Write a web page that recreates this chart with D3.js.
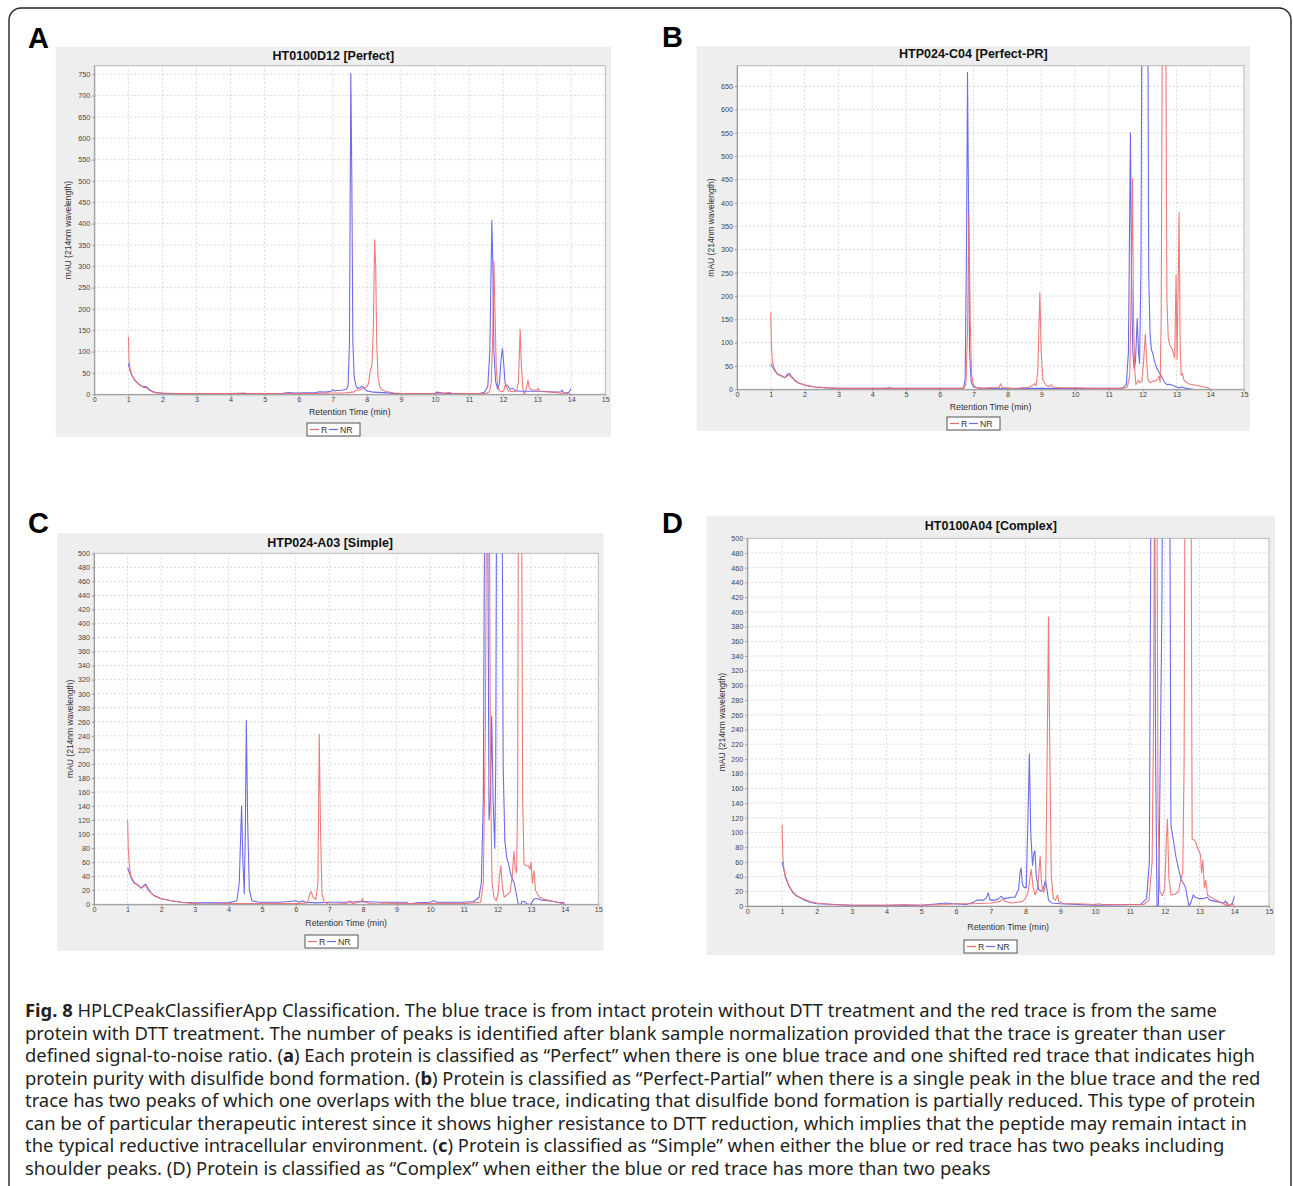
<!DOCTYPE html>
<html>
<head>
<meta charset="utf-8">
<script src="https://cdn.jsdelivr.net/npm/d3@7"></script>
<style>
body { margin: 0; background: #fff; }
svg { display: block; }
</style>
</head>
<body>
<svg id="fig" width="1293" height="1186"></svg>
<script>
// ---- data ----
const panelLetters = ["A", "B", "C", "D"];
const titles = ["HT0100D12 [Perfect]", "HTP024-C04 [Perfect-PR]", "HTP024-A03 [Simple]", "HT0100A04 [Complex]"];
const seriesNames = ["R", "NR"];
const xTicks = [0, 1, 2, 3, 4, 5, 6, 7, 8, 9, 10, 11, 12, 13, 14, 15];
const yTicksA = [0, 50, 100, 150, 200, 250, 300, 350, 400, 450, 500, 550, 600, 650, 700, 750];
const yTicksB = [0, 50, 100, 150, 200, 250, 300, 350, 400, 450, 500, 550, 600, 650];
const yTicks500 = [0, 20, 40, 60, 80, 100, 120, 140, 160, 180, 200, 220, 240, 260, 280, 300, 320, 340, 360, 380, 400, 420, 440, 460, 480, 500];
const yMax = [770, 694, 500, 500];

// [retention time (min), mAU]
const aRed = [[1.0,135],[1.02,80],[1.05,60],[1.1,46],[1.15,38],[1.2,32],[1.3,24],[1.4,18],[1.45,16],[1.5,16],[1.55,14],[1.6,10],[1.7,6],[1.8,4],[2.0,3],[2.3,2],[3.0,1.5],[4.0,1.5],[4.4,3],[4.5,2],[5.0,1.5],[5.6,2],[5.7,3],[5.8,2],[6.5,2],[7.0,3],[7.3,3],[7.6,5],[7.7,10],[7.8,10],[7.9,14],[8.0,18],[8.05,25],[8.1,55],[8.15,68],[8.19,150],[8.23,362],[8.26,300],[8.29,120],[8.33,40],[8.38,18],[8.45,10],[8.6,6],[8.8,3],[9.0,2],[10.0,2],[10.45,4],[10.5,2],[11.5,2],[11.6,6],[11.65,25],[11.69,120],[11.73,312],[11.76,200],[11.8,60],[11.84,20],[11.9,8],[11.96,6],[12.02,8],[12.06,22],[12.1,18],[12.15,8],[12.3,6],[12.4,7],[12.45,30],[12.5,152],[12.54,60],[12.58,15],[12.62,0],[12.66,8],[12.7,20],[12.73,33],[12.77,15],[12.85,10],[13.0,10],[13.03,14],[13.07,7],[13.2,6],[13.4,6],[13.6,4],[13.7,2],[13.8,4],[13.9,1],[14.0,0]];
const aBlue = [[1.0,72],[1.03,62],[1.06,52],[1.1,44],[1.2,32],[1.3,24],[1.4,19],[1.45,18],[1.5,18],[1.55,17],[1.6,12],[1.7,7],[1.8,4],[2.0,2.5],[2.5,1.5],[3.5,1.5],[4.5,2],[5.5,2],[5.7,4],[5.9,3],[6.5,4],[6.6,6],[6.8,5],[6.95,7],[7.0,11],[7.05,8],[7.1,9],[7.2,9],[7.3,10],[7.4,12],[7.45,20],[7.49,120],[7.53,752],[7.56,500],[7.59,120],[7.63,40],[7.68,20],[7.73,14],[7.8,15],[7.85,19],[7.9,16],[8.0,8],[8.2,5],[8.5,4],[8.8,2],[10.0,2],[10.05,5],[10.15,4],[10.25,2],[11.3,2],[11.45,5],[11.55,18],[11.61,100],[11.67,407],[11.7,300],[11.73,100],[11.78,30],[11.84,12],[11.89,25],[11.94,80],[11.98,108],[12.02,70],[12.06,25],[12.1,22],[12.14,20],[12.2,12],[12.28,14],[12.35,9],[12.5,7],[12.8,7],[13.1,7],[13.5,5],[13.7,6],[13.73,10],[13.77,4],[13.85,3],[13.93,5],[13.98,12],[14.0,13]];

const bRed = [[1.0,165],[1.02,90],[1.05,58],[1.1,45],[1.2,33],[1.3,30],[1.4,25],[1.45,26],[1.5,30],[1.55,31],[1.6,26],[1.7,19],[1.8,14],[2.0,9],[2.3,5],[2.7,3],[3.0,2],[4.0,2],[5.0,2],[6.0,2],[6.7,2],[6.77,10],[6.82,120],[6.86,375],[6.9,150],[6.94,30],[7.0,8],[7.1,3],[7.3,2],[7.5,3],[7.75,4],[7.8,12],[7.84,4],[8.0,3],[8.2,2],[8.3,0],[8.4,3],[8.6,4],[8.75,8],[8.8,12],[8.85,8],[8.9,40],[8.96,207],[9.0,80],[9.05,20],[9.15,8],[9.25,6],[9.3,10],[9.35,5],[9.6,3],[10.0,3],[10.5,2],[11.4,2],[11.55,5],[11.62,30],[11.66,200],[11.7,452],[11.73,150],[11.77,40],[11.8,10],[11.84,15],[11.88,20],[11.92,14],[11.98,18],[12.03,60],[12.08,118],[12.12,60],[12.16,20],[12.22,14],[12.3,17],[12.38,18],[12.45,22],[12.49,28],[12.52,15],[12.55,150],[12.59,900],[12.64,900],[12.68,900],[12.72,190],[12.76,110],[12.8,95],[12.85,90],[12.9,80],[12.95,67],[12.99,245],[13.02,65],[13.08,380],[13.11,100],[13.14,30],[13.18,34],[13.22,20],[13.35,12],[13.6,8],[13.9,4],[14.0,0]];
const bBlue = [[1.0,55],[1.05,48],[1.1,42],[1.2,32],[1.3,29],[1.4,25],[1.45,28],[1.5,33],[1.55,34],[1.6,29],[1.7,20],[1.8,14],[2.0,9],[2.3,5],[2.7,3],[3.0,2],[4.4,2],[4.5,3],[4.6,2],[6.7,2],[6.75,20],[6.79,300],[6.82,680],[6.85,400],[6.88,80],[6.93,15],[7.0,5],[7.2,2],[7.5,2],[8.0,1],[8.2,0],[8.3,2],[9.0,2],[10.0,2],[11.4,2],[11.52,10],[11.58,80],[11.64,550],[11.67,250],[11.71,80],[11.75,45],[11.79,60],[11.84,152],[11.88,80],[11.91,55],[11.95,250],[12.0,1200],[12.14,1200],[12.18,250],[12.22,120],[12.26,85],[12.3,78],[12.35,60],[12.42,45],[12.5,35],[12.58,25],[12.65,15],[12.72,10],[12.8,11],[12.9,8],[13.0,5],[13.1,3],[13.15,5],[13.2,4],[13.3,2],[13.5,0]];

const cRed = [[1.0,120],[1.02,80],[1.05,55],[1.1,40],[1.2,31],[1.3,27],[1.4,23],[1.45,24],[1.5,26],[1.55,26],[1.6,21],[1.7,16],[1.8,12],[2.0,8],[2.3,5],[2.6,3],[3.0,1],[3.3,0],[4.0,1],[5.0,1],[6.0,1],[6.35,2],[6.42,15],[6.46,18],[6.52,10],[6.6,7],[6.66,30],[6.7,242],[6.74,100],[6.78,15],[6.85,3],[7.0,0],[7.5,1],[7.62,5],[7.68,1],[7.95,4],[7.98,8],[8.03,4],[8.2,1],[8.5,0],[8.6,2],[9.0,1],[10.0,1],[11.0,1],[11.5,3],[11.58,30],[11.64,250],[11.69,700],[11.75,700],[11.79,200],[11.84,30],[11.9,10],[11.96,5],[12.02,15],[12.06,40],[12.1,55],[12.14,28],[12.2,10],[12.3,14],[12.38,18],[12.44,40],[12.49,75],[12.53,50],[12.57,45],[12.6,150],[12.63,700],[12.71,700],[12.75,150],[12.79,57],[12.85,55],[12.92,55],[12.97,50],[13.0,60],[13.04,30],[13.09,48],[13.13,20],[13.18,16],[13.25,10],[13.4,7],[13.7,4],[14.0,0]];
const cBlue = [[1.0,52],[1.05,45],[1.1,38],[1.2,30],[1.3,28],[1.4,23],[1.45,25],[1.5,28],[1.55,28],[1.6,23],[1.7,16],[1.8,12],[2.0,8],[2.3,5],[2.6,3],[3.0,2],[4.0,2],[4.25,5],[4.32,30],[4.39,140],[4.43,60],[4.47,15],[4.5,100],[4.53,262],[4.57,120],[4.62,20],[4.7,5],[4.9,3],[5.5,3],[5.8,4],[6.0,5],[6.1,3],[6.2,5],[6.3,3],[6.6,2],[7.0,3],[7.5,3],[8.0,4],[8.5,3],[9.0,3],[9.3,3],[9.35,0],[9.45,1],[9.6,2],[10.0,3],[10.1,5],[10.2,3],[11.0,3],[11.3,4],[11.45,10],[11.52,30],[11.58,150],[11.63,700],[11.7,700],[11.75,120],[11.79,150],[11.83,268],[11.87,150],[11.92,80],[11.95,200],[11.98,700],[12.13,700],[12.17,200],[12.22,90],[12.28,65],[12.32,60],[12.4,42],[12.5,30],[12.56,15],[12.62,0],[12.7,0],[12.73,4],[12.8,4],[12.9,0],[13.0,0],[13.05,5],[13.1,8],[13.2,8],[13.3,6],[13.5,5],[13.8,3],[14.0,2]];

const dRed = [[1.0,110],[1.02,70],[1.05,50],[1.1,38],[1.2,27],[1.3,20],[1.4,15],[1.5,12],[1.6,10],[1.8,6],[2.0,4],[2.5,2],[3.0,1],[4.0,1],[4.5,2],[5.0,1],[5.7,2],[6.0,3],[6.5,3],[7.0,4],[7.25,6],[7.35,10],[7.42,6],[7.6,4],[7.9,6],[8.0,10],[8.08,20],[8.16,50],[8.22,25],[8.28,15],[8.35,25],[8.42,68],[8.46,30],[8.52,18],[8.58,30],[8.62,200],[8.66,393],[8.7,200],[8.74,40],[8.8,10],[8.86,8],[8.92,15],[8.96,6],[9.1,3],[9.5,3],[10.0,2],[10.1,3],[10.2,2],[11.4,2],[11.55,8],[11.64,60],[11.68,250],[11.72,700],[11.77,700],[11.81,120],[11.86,20],[11.93,14],[12.0,22],[12.05,90],[12.08,118],[12.12,40],[12.18,15],[12.3,16],[12.4,20],[12.46,35],[12.52,45],[12.56,200],[12.59,700],[12.75,700],[12.79,90],[12.85,90],[12.9,86],[12.97,76],[13.03,70],[13.06,45],[13.1,62],[13.14,25],[13.18,35],[13.23,15],[13.4,10],[13.6,5],[13.72,2],[13.76,0],[13.8,5],[13.85,0],[13.95,3],[14.0,0]];
const dBlue = [[1.0,60],[1.05,50],[1.1,40],[1.2,27],[1.3,19],[1.4,14],[1.5,12],[1.6,9],[1.8,5],[2.0,3],[2.5,2],[3.0,1],[5.0,1],[5.5,3],[5.7,4],[5.9,3],[6.3,2],[6.5,5],[6.6,8],[6.8,8],[6.88,12],[6.93,18],[6.98,8],[7.1,8],[7.2,9],[7.3,13],[7.38,10],[7.5,11],[7.6,12],[7.7,12],[7.75,18],[7.8,22],[7.84,45],[7.87,52],[7.91,30],[7.96,25],[8.02,25],[8.07,120],[8.11,207],[8.15,100],[8.2,55],[8.24,72],[8.27,75],[8.31,40],[8.38,22],[8.45,20],[8.52,25],[8.57,35],[8.61,25],[8.66,8],[8.75,4],[9.0,3],[10.0,1],[11.3,2],[11.48,10],[11.56,60],[11.62,700],[11.7,700],[11.74,200],[11.78,0],[11.82,0],[11.85,100],[11.92,400],[11.95,700],[12.14,700],[12.18,110],[12.25,90],[12.32,68],[12.4,50],[12.48,35],[12.55,30],[12.6,25],[12.65,12],[12.7,0],[12.76,5],[12.82,15],[12.88,12],[13.0,10],[13.1,10],[13.22,12],[13.3,8],[13.5,6],[13.7,4],[13.75,7],[13.8,0],[13.9,2],[13.95,4],[14.0,13]];

const redSeries = [aRed, bRed, cRed, dRed];
const blueSeries = [aBlue, bBlue, cBlue, dBlue];
const yTickSets = [yTicksA, yTicksB, yTicks500, yTicks500];

const captionLines = [
  [["b", "Fig. 8"], ["n", " HPLCPeakClassifierApp Classification. The blue trace is from intact protein without DTT treatment and the red trace is from the same"]],
  [["n", "protein with DTT treatment. The number of peaks is identified after blank sample normalization provided that the trace is greater than user"]],
  [["n", "defined signal-to-noise ratio. ("], ["b", "a"], ["n", ") Each protein is classified as \u201cPerfect\u201d when there is one blue trace and one shifted red trace that indicates high"]],
  [["n", "protein purity with disulfide bond formation. ("], ["b", "b"], ["n", ") Protein is classified as \u201cPerfect-Partial\u201d when there is a single peak in the blue trace and the red"]],
  [["n", "trace has two peaks of which one overlaps with the blue trace, indicating that disulfide bond formation is partially reduced. This type of protein"]],
  [["n", "can be of particular therapeutic interest since it shows higher resistance to DTT reduction, which implies that the peptide may remain intact in"]],
  [["n", "the typical reductive intracellular environment. ("], ["b", "c"], ["n", ") Protein is classified as \u201cSimple\u201d when either the blue or red trace has two peaks including"]],
  [["n", "shoulder peaks. (D) Protein is classified as \u201cComplex\u201d when either the blue or red trace has more than two peaks"]]
];

// ---- layout (pixels) ----
const layout = [
  { bg: [55.7, 46.7, 611, 437], plot: [94.3, 65.7, 605.3, 394.3], titleY: 55, xTitleY: 412, yTitleX: 68, legend: [307, 423], letter: [28, 48] },
  { bg: [696.7, 46, 1250, 431], plot: [737, 65.7, 1244, 389.3], titleY: 53, xTitleY: 407, yTitleX: 711, legend: [947, 417], letter: [662, 47] },
  { bg: [57, 533.3, 603.3, 950.7], plot: [94, 553.3, 598.3, 904.3], titleY: 542, xTitleY: 923, yTitleX: 70, legend: [305, 935], letter: [28, 533] },
  { bg: [706.7, 516, 1275, 955], plot: [747.3, 538.3, 1269, 906], titleY: 525, xTitleY: 927, yTitleX: 722, legend: [964, 940], letter: [662, 533] }
];

const RED = "#ef6b6b";
const BLUE = "#6b6bef";
const FONT = "Liberation Sans, Arial, sans-serif";
const svg = d3.select("#fig");

svg.append("rect")
  .attr("x", 9).attr("y", 8)
  .attr("width", 1282).attr("height", 1192)
  .attr("rx", 12)
  .attr("fill", "none")
  .attr("stroke", "#222")
  .attr("stroke-width", 1.4);

layout.forEach((L, i) => {
  const g = svg.append("g");
  const [bx0, by0, bx1, by1] = L.bg;
  const [px0, py0, px1, py1] = L.plot;

  g.append("text")
    .attr("x", L.letter[0]).attr("y", L.letter[1])
    .attr("font-family", FONT)
    .attr("font-weight", "bold")
    .attr("font-size", 29)
    .text(panelLetters[i]);

  g.append("rect")
    .attr("x", bx0).attr("y", by0)
    .attr("width", bx1 - bx0).attr("height", by1 - by0)
    .attr("fill", "#eeeeee");

  g.append("text")
    .attr("x", (bx0 + bx1) / 2).attr("y", L.titleY + 4.5)
    .attr("text-anchor", "middle")
    .attr("font-family", FONT)
    .attr("font-weight", "bold")
    .attr("font-size", 12.5)
    .attr("fill", "#111")
    .text(titles[i]);

  const x = d3.scaleLinear().domain([0, 15]).range([px0, px1]);
  const y = d3.scaleLinear().domain([0, yMax[i]]).range([py1, py0]);

  g.append("rect")
    .attr("x", px0).attr("y", py0)
    .attr("width", px1 - px0).attr("height", py1 - py0)
    .attr("fill", "#fff")
    .attr("stroke", "#b8b8b8")
    .attr("stroke-width", 1);

  // gridlines
  g.append("g").selectAll("line")
    .data(xTicks.filter(t => t > 0 && t < 15))
    .join("line")
    .attr("x1", d => x(d)).attr("x2", d => x(d))
    .attr("y1", py0).attr("y2", py1)
    .attr("stroke", "#d9d9d9")
    .attr("stroke-dasharray", "2,2");
  g.append("g").selectAll("line")
    .data(yTickSets[i].filter(t => t > 0 && y(t) > py0 + 0.5))
    .join("line")
    .attr("x1", px0).attr("x2", px1)
    .attr("y1", d => y(d)).attr("y2", d => y(d))
    .attr("stroke", "#d9d9d9")
    .attr("stroke-dasharray", "2,2");

  // axes
  const xAxis = g.append("g")
    .attr("transform", `translate(0,${py1})`)
    .call(d3.axisBottom(x).tickValues(xTicks).tickSize(2).tickSizeOuter(0).tickPadding(1).tickFormat(d3.format("d")));
  const yAxis = g.append("g")
    .attr("transform", `translate(${px0},0)`)
    .call(d3.axisLeft(y).tickValues(yTickSets[i]).tickSize(2).tickSizeOuter(0).tickPadding(2).tickFormat(d3.format("d")));
  [xAxis, yAxis].forEach(a => {
    a.select(".domain").attr("stroke", "#999");
    a.selectAll(".tick line").attr("stroke", "#999");
    a.selectAll(".tick text")
      .attr("font-family", FONT)
      .attr("font-size", 7.2)
      .attr("fill", "#444");
  });

  // traces
  const clipId = "clip" + i;
  svg.append("clipPath").attr("id", clipId)
    .append("rect")
    .attr("x", px0).attr("y", py0)
    .attr("width", px1 - px0).attr("height", py1 - py0);

  const line = d3.line().x(d => x(d[0])).y(d => y(d[1]));
  const traces = g.append("g").attr("clip-path", `url(#${clipId})`);
  traces.append("path")
    .datum(blueSeries[i])
    .attr("d", line)
    .attr("fill", "none")
    .attr("stroke", BLUE)
    .attr("stroke-width", 1.1)
    .attr("stroke-linejoin", "round");
  traces.append("path")
    .datum(redSeries[i])
    .attr("d", line)
    .attr("fill", "none")
    .attr("stroke", RED)
    .attr("stroke-width", 1.1)
    .attr("stroke-opacity", 0.9)
    .attr("stroke-linejoin", "round");

  // axis titles
  g.append("text")
    .attr("x", (px0 + px1) / 2).attr("y", L.xTitleY + 3)
    .attr("text-anchor", "middle")
    .attr("font-family", FONT)
    .attr("font-size", 8.8)
    .attr("fill", "#333")
    .text("Retention Time (min)");
  g.append("text")
    .attr("transform", `translate(${L.yTitleX + 3},${(py0 + py1) / 2}) rotate(-90)`)
    .attr("text-anchor", "middle")
    .attr("font-family", FONT)
    .attr("font-size", 8.5)
    .attr("fill", "#333")
    .text("mAU (214nm wavelength)");

  // legend
  const lg = g.append("g").attr("transform", `translate(${L.legend[0]},${L.legend[1]})`);
  lg.append("rect")
    .attr("width", 53).attr("height", 13)
    .attr("fill", "#fff")
    .attr("stroke", "#555")
    .attr("stroke-width", 1);
  [RED, BLUE].forEach((c, k) => {
    const ox = k === 0 ? 3 : 22;
    lg.append("line")
      .attr("x1", ox).attr("x2", ox + 9)
      .attr("y1", 6.5).attr("y2", 6.5)
      .attr("stroke", c).attr("stroke-width", 1.2);
    lg.append("text")
      .attr("x", ox + 11).attr("y", 9.8)
      .attr("font-family", FONT)
      .attr("font-size", 8.8)
      .attr("fill", "#333")
      .text(seriesNames[k]);
  });
});

// caption
const cap = svg.append("g");
const capTexts = captionLines.map((parts, li) => {
  const t = cap.append("text")
    .attr("x", 25).attr("y", 1017 + li * 22.5)
    .attr("font-family", "Noto Sans, Open Sans, sans-serif")
    .attr("font-size", 18)
    .attr("fill", "#231f20");
  parts.forEach(p => {
    t.append("tspan")
      .attr("font-weight", p[0] === "b" ? "bold" : "normal")
      .text(p[1]);
  });
  return t;
});
const w3 = capTexts[2].node().getComputedTextLength();
const fs = 18 * 1231 / w3;
capTexts.forEach(t => t.attr("font-size", fs));
</script>
</body>
</html>
